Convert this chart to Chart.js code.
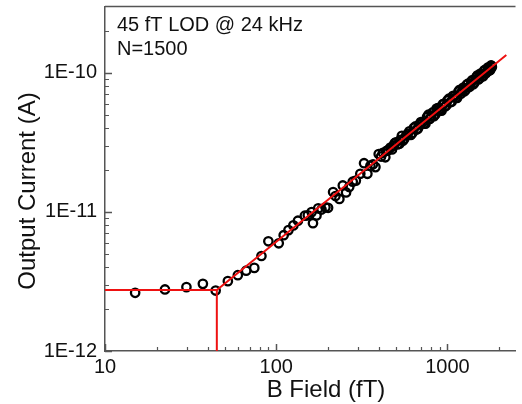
<!DOCTYPE html>
<html><head><meta charset="utf-8">
<script src="https://cdn.jsdelivr.net/npm/chart.js@4"></script>
<style>html,body{margin:0;padding:0;background:#fff;overflow:hidden}#wrap{width:522px;height:404px;position:relative}</style>
</head><body><div id="wrap"><canvas id="c" width="522" height="404"></canvas></div>
<script>
// Measured data (B field in fT, output current in A)
const fieldB = [15.0, 22.4, 29.9, 37.3, 44.3, 52.2, 59.7, 66.8, 74.5, 82.0, 90.0, 103.5, 110.6, 118.0, 126.0, 134.0, 147.0, 153.0, 161.0, 164.0, 172.0, 176.0, 184.0, 194.0, 201.0, 215.0, 222.0, 234.0, 245.0, 256.0, 267.0, 280.0, 292.0, 310.0, 326.0, 341.0, 355.0, 368.0, 380.0, 397.0, 410.0, 420, 434, 442, 450, 465, 475, 485, 492, 500, 512, 525, 532, 542, 550, 560, 575, 587, 600, 612, 625, 637, 650, 662, 675, 688, 700, 715, 730, 745, 760, 775, 790, 805, 820, 835, 850, 865, 880, 895, 910, 925, 940, 955, 970, 985, 1000, 1020, 1040, 1060, 1080, 1100, 1120, 1140, 1160, 1180, 1200, 1220, 1240, 1260, 1280, 1300, 1320, 1340, 1360, 1380, 1400, 1420, 1440, 1460, 1480, 1500, 1520, 1540, 1560, 1580, 1600, 1620, 1640, 1660, 1680, 1700, 1720, 1740, 1760, 1780, 1800, 1810, 1820];
const currentI = [2.62e-12, 2.77e-12, 2.88e-12, 3.04e-12, 2.72e-12, 3.18e-12, 3.51e-12, 3.78e-12, 3.96e-12, 4.82e-12, 6.15e-12, 5.95e-12, 6.80e-12, 7.40e-12, 8.0e-12, 8.65e-12, 9.40e-12, 9.45e-12, 9.97e-12, 8.30e-12, 9.44e-12, 1.06e-11, 1.04e-11, 1.08e-11, 1.07e-11, 1.39e-11, 1.30e-11, 1.24e-11, 1.55e-11, 1.38e-11, 1.51e-11, 1.65e-11, 1.68e-11, 1.88e-11, 2.24e-11, 1.88e-11, 2.15e-11, 2.20e-11, 2.10e-11, 2.61e-11, 2.50e-11, 2.66e-11, 2.47e-11, 2.75e-11, 2.78e-11, 2.90e-11, 2.81e-11, 3.0e-11, 3.12e-11, 3.17e-11, 3.06e-11, 3.10e-11, 3.30e-11, 3.53e-11, 3.25e-11, 3.35e-11, 3.55e-11, 3.65e-11, 3.80e-11, 3.58e-11, 3.70e-11, 4.03e-11, 4.12e-11, 3.91e-11, 3.99e-11, 4.27e-11, 4.43e-11, 4.40e-11, 4.31e-11, 4.31e-11, 4.81e-11, 5.00e-11, 4.67e-11, 4.85e-11, 5.19e-11, 4.88e-11, 5.02e-11, 5.53e-11, 5.57e-11, 5.45e-11, 5.38e-11, 5.35e-11, 5.95e-11, 5.99e-11, 5.73e-11, 5.82e-11, 6.33e-11, 6.52e-11, 6.14e-11, 6.20e-11, 6.84e-11, 6.77e-11, 6.62e-11, 6.60e-11, 7.35e-11, 7.55e-11, 7.09e-11, 7.36e-11, 7.85e-11, 7.37e-11, 7.56e-11, 8.23e-11, 8.36e-11, 7.92e-11, 8.03e-11, 8.66e-11, 8.87e-11, 8.30e-11, 8.51e-11, 8.98e-11, 9.37e-11, 9.59e-11, 8.98e-11, 9.10e-11, 9.88e-11, 9.81e-11, 9.45e-11, 9.47e-11, 1.039e-10, 1.051e-10, 9.92e-11, 1.015e-10, 1.089e-10, 1.091e-10, 1.040e-10, 1.051e-10, 1.13e-10, 1.124e-10, 1.10e-10];
// Fit line (noise floor + linear response) and LOD marker
const fitB = [10, 45, 2210];
const fitI = [2.74e-12, 2.74e-12, 1.346e-10];
const lodB = [45, 45];
const lodI = [2.74e-12, 1e-12];
// Axes
const xTickValues = [10, 100, 1000];
const xTickLabels = ['10', '100', '1000'];
const xMinorTicks = [20, 30, 40, 50, 60, 70, 80, 90, 200, 300, 400, 500, 600, 700, 800, 900, 2000];
const yTickValues = [1e-12, 1e-11, 1e-10];
const yTickLabels = ['1E-12', '1E-11', '1E-10'];
const yMinorTicks = [2e-12, 3e-12, 4e-12, 5e-12, 6e-12, 7e-12, 8e-12, 9e-12, 2e-11, 3e-11, 4e-11, 5e-11, 6e-11, 7e-11, 8e-11, 9e-11, 2e-10];
const xTitle = 'B Field (fT)';
const yTitle = 'Output Current (A)';
const noteLines = ['45 fT LOD @ 24 kHz', 'N=1500'];

const FONT = '"Liberation Sans", Arial, sans-serif';
const AXIS = '#555555';

const extras = {
  id: 'extras',
  afterDraw(chart) {
    const {ctx, chartArea: a, scales: {x, y}} = chart;
    ctx.save();
    ctx.strokeStyle = AXIS;
    ctx.lineWidth = 1.5;
    ctx.beginPath(); ctx.moveTo(a.left, a.top); ctx.lineTo(a.right, a.top); ctx.stroke();
    const tick = (vals, len, w) => {
      ctx.lineWidth = w;
      ctx.beginPath();
      vals.forEach(v => { const px = Math.round(x.getPixelForValue(v)) + 0.5; ctx.moveTo(px, a.bottom); ctx.lineTo(px, a.bottom - len); });
      ctx.stroke();
    };
    const ytick = (vals, len, w) => {
      ctx.lineWidth = w;
      ctx.beginPath();
      vals.forEach(v => { const py = Math.round(y.getPixelForValue(v)) + 0.5; ctx.moveTo(a.left, py); ctx.lineTo(a.left + len, py); });
      ctx.stroke();
    };
    tick(xTickValues, 7, 1.5); tick(xMinorTicks, 4, 1.2);
    ytick(yTickValues, 7, 1.5); ytick(yMinorTicks, 4, 1.2);
    ctx.fillStyle = '#111';
    ctx.font = '24px ' + FONT;
    ctx.textAlign = 'center'; ctx.textBaseline = 'alphabetic';
    ctx.fillText(xTitle, 326, 397);
    ctx.save();
    ctx.translate(35, 191); ctx.rotate(-Math.PI / 2);
    ctx.fillText(yTitle, 0, 0);
    ctx.restore();
    ctx.font = '20px ' + FONT;
    ctx.textAlign = 'left';
    ctx.fillText(noteLines[0], 117, 31);
    ctx.fillText(noteLines[1], 117, 55);
    ctx.restore();
  }
};

new Chart(document.getElementById('c'), {
  type: 'scatter',
  data: {
    datasets: [
      { data: fitB.map((b, i) => ({x: b, y: fitI[i]})), showLine: true, borderColor: '#ee1111', borderWidth: 2, pointRadius: 0, fill: false, order: 0 },
      { data: lodB.map((b, i) => ({x: b, y: lodI[i]})), showLine: true, borderColor: '#ee1111', borderWidth: 2, pointRadius: 0, fill: false, order: 0 },
      { data: fieldB.map((b, i) => ({x: b, y: currentI[i]})), showLine: false, pointStyle: 'circle', pointRadius: 4.2, borderWidth: 2.3, borderColor: '#000', backgroundColor: 'rgba(0,0,0,0)', order: 1 }
    ]
  },
  options: {
    responsive: false, animation: false, devicePixelRatio: 1,
    layout: { padding: { top: 6, right: 0, bottom: 0, left: 0 } },
    plugins: { legend: { display: false }, tooltip: { enabled: false } },
    scales: {
      x: {
        type: 'logarithmic', position: 'bottom', min: 10, max: 2500,
        afterBuildTicks: s => { s.ticks = xTickValues.map(v => ({value: v})); },
        afterFit: s => { s.height = 53; s.paddingLeft = 0; s.paddingRight = 0; },
        ticks: { autoSkip: false, maxRotation: 0, padding: 4, color: '#111', font: { family: FONT, size: 20 },
          callback: v => { const i = xTickValues.indexOf(v); return i >= 0 ? xTickLabels[i] : ''; } },
        grid: { display: false, drawTicks: false },
        border: { display: true, color: AXIS, width: 1.5 }
      },
      y: {
        type: 'logarithmic', position: 'left', min: 1e-12, max: 3e-10,
        afterBuildTicks: s => { s.ticks = yTickValues.map(v => ({value: v})); },
        afterFit: s => { s.width = 105; s.paddingTop = 0; s.paddingBottom = 0; },
        ticks: { autoSkip: false, padding: 8, color: '#111', font: { family: FONT, size: 20 },
          callback: v => { const i = yTickValues.findIndex(t => Math.abs(t - v) / t < 1e-6); return i >= 0 ? yTickLabels[i] : ''; } },
        grid: { display: false, drawTicks: false },
        border: { display: true, color: AXIS, width: 1.5 }
      }
    }
  },
  plugins: [extras]
});
</script></body></html>
